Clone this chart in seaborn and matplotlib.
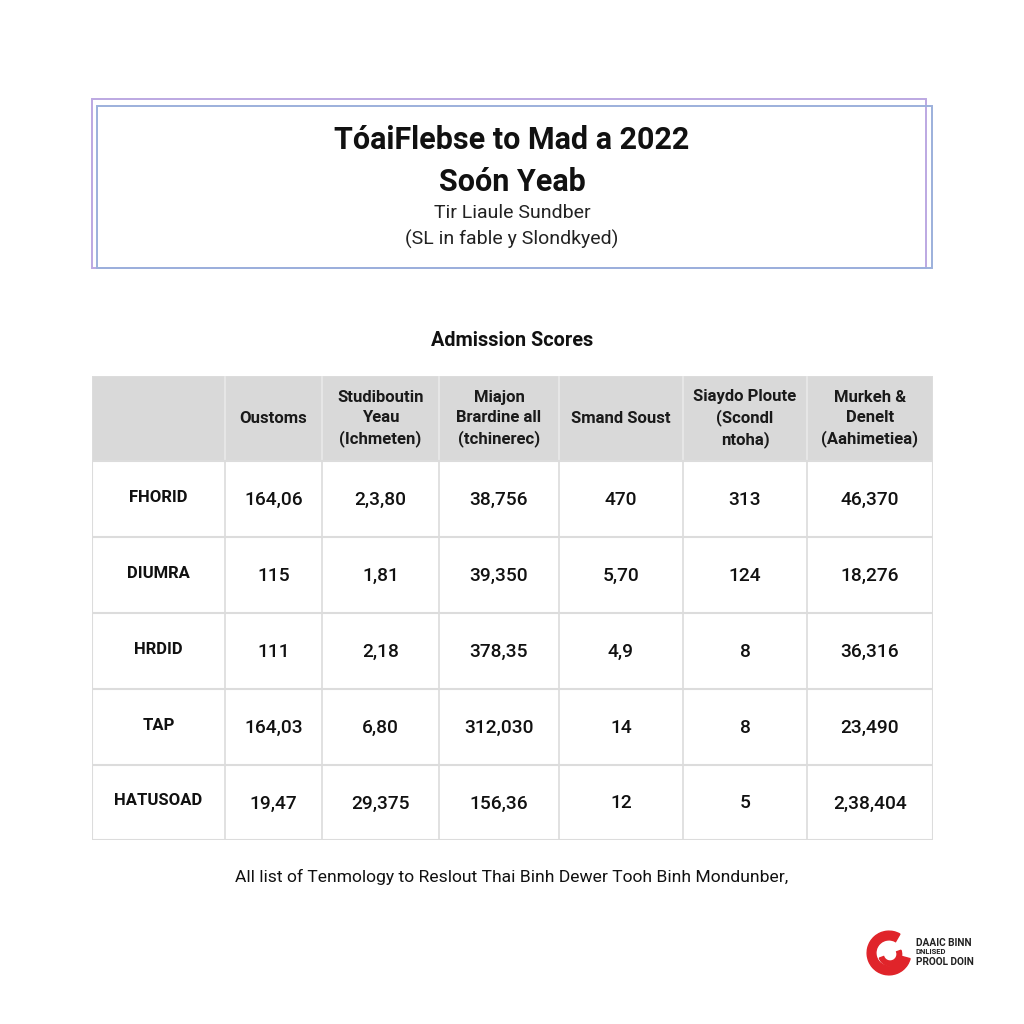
"""Admission score table redrawn as a seaborn heatmap background with text cells."""

import matplotlib

matplotlib.use("Agg")
import matplotlib.pyplot as plt
import numpy as np
import seaborn as sns
from matplotlib.colors import ListedColormap
from matplotlib.patches import Rectangle, Wedge

# --- data ---
title_lines = ["TóaiFlebse to Mad a 2022", "Soón Yeab"]
subtitle_lines = ["Tir Liaule Sundber", "(SL in fable y Slondkyed)"]
table_title = "Admission Scores"
footer = "All list of Tenmology to Reslout Thai Binh Dewer Tooh Binh Mondunber,"

columns = [
    "",
    "Oustoms",
    "Studiboutin\nYeau\n(Ichmeten)",
    "Miajon\nBrardine all\n(tchinerec)",
    "Smand Soust",
    "Siaydo Ploute\n(Scondl\nntoha)",
    "Murkeh &\nDenelt\n(Aahimetiea)",
]
rows = ["FHORID", "DIUMRA", "HRDID", "TAP", "HATUSOAD"]
oustoms = ["164,06", "115", "111", "164,03", "19,47"]
studiboutin = ["2,3,80", "1,81", "2,18", "6,80", "29,375"]
miajon = ["38,756", "39,350", "378,35", "312,030", "156,36"]
smand = ["470", "5,70", "4,9", "14", "12"]
siaydo = ["313", "124", "8", "8", "5"]
murkeh = ["46,370", "18,276", "36,316", "23,490", "2,38,404"]

# column widths / row heights in pixels of the reference
col_w = [133, 97, 117, 120, 124, 124, 126]
row_h = [85, 76, 76, 76, 76, 75]

W = H = 1024
sns.set_theme(style="white")
plt.rcParams["font.family"] = ["Roboto", "DejaVu Sans"]

fig = plt.figure(figsize=(W / 100, H / 100), dpi=100)
fig.patch.set_facecolor("white")


def fx(x):
    return x / W


def fy(y):
    return 1 - y / H


# --- title box ---
fig.patches.append(Rectangle((fx(92), fy(268)), fx(926) - fx(92), fy(99) - fy(268),
                             transform=fig.transFigure, fill=False, ec="#bca8e2", lw=1.4))
fig.patches.append(Rectangle((fx(97), fy(268)), fx(932) - fx(97), fy(106) - fy(268),
                             transform=fig.transFigure, fill=False, ec="#9cb0dc", lw=1.4))
fig.text(0.5, fy(140), title_lines[0], ha="center", va="center", fontsize=22, weight="bold", color="#111")
fig.text(0.5, fy(182), title_lines[1], ha="center", va="center", fontsize=22, weight="bold", color="#111")
fig.text(0.5, fy(213), subtitle_lines[0], ha="center", va="center", fontsize=14, color="#222")
fig.text(0.5, fy(239), subtitle_lines[1], ha="center", va="center", fontsize=14, color="#222")

fig.text(0.5, fy(340), table_title, ha="center", va="center", fontsize=14.3, weight="bold", color="#111")

# --- table as heatmap ---
x0, x1, y0, y1 = 92, 933, 376, 840
ax = fig.add_axes([fx(x0), fy(y1), fx(x1) - fx(x0), fy(y0) - fy(y1)])
kind = np.zeros((len(row_h), len(col_w)))
kind[0, :] = 1  # header row
grid = np.repeat(np.repeat(kind, row_h, axis=0), col_w, axis=1)
sns.heatmap(grid, ax=ax, cmap=ListedColormap(["white", "#d9d9d9"]), cbar=False,
            xticklabels=False, yticklabels=False, rasterized=True)

xe = np.concatenate([[0], np.cumsum(col_w)])
ye = np.concatenate([[0], np.cumsum(row_h)])
xc = (xe[:-1] + xe[1:]) / 2
yc = (ye[:-1] + ye[1:]) / 2

for x in xe[1:-1]:
    ax.plot([x, x], [0, ye[1]], color="#e9e9e9", lw=1.2)
    ax.plot([x, x], [ye[1], ye[-1]], color="#dcdcdc", lw=1.2)
for y in ye[1:-1]:
    ax.plot([0, xe[-1]], [y, y], color="#dcdcdc", lw=1.5)
ax.add_patch(Rectangle((0, 0), xe[-1], ye[-1], fill=False, ec="#dcdcdc", lw=1.5))
ax.set_xlim(0, xe[-1])
ax.set_ylim(ye[-1], 0)
for s in ax.spines.values():
    s.set_visible(False)

for j, name in enumerate(columns):
    ax.text(xc[j], yc[0], name, ha="center", va="center", fontsize=12, weight="bold",
            color="#1a1a1a", linespacing=1.38)

body = [oustoms, studiboutin, miajon, smand, siaydo, murkeh]
for i, r in enumerate(rows):
    ax.text(xc[0], yc[i + 1] - 2, r, ha="center", va="center", fontsize=12, weight="bold", color="#111")
    for j, col in enumerate(body):
        ax.text(xc[j + 1], yc[i + 1] + 1, col[i], ha="center", va="center", fontsize=13.8,
                weight="medium", color="#111")

fig.text(0.5, fy(877), footer, ha="center", va="center", fontsize=12.6, color="#111")

# --- logo ---
lax = fig.add_axes([fx(866), fy(976), fx(912) - fx(866), fy(930) - fy(976)])
lax.set_xlim(-1, 1)
lax.set_ylim(-1, 1)
lax.set_aspect("equal")
lax.axis("off")
lax.add_patch(Wedge((0, 0), 0.95, 60, 345, width=0.38, color="#e0242a"))
lax.add_patch(Wedge((0.05, -0.05), 0.5, 200, 20, width=0.2, color="#e0242a"))
fig.text(fx(916), fy(943), "DAAIC BINN", fontsize=7.3, weight="bold", color="#222", va="center")
fig.text(fx(916), fy(952), "DNLISED", fontsize=5.5, weight="bold", color="#222", va="center")
fig.text(fx(916), fy(962), "PROOL DOIN", fontsize=7.3, weight="bold", color="#222", va="center")

fig.savefig("out.png", dpi=100, facecolor="white")
